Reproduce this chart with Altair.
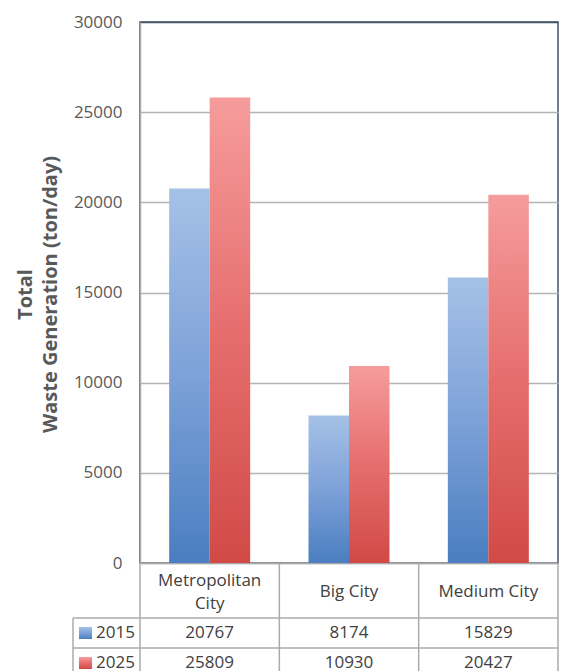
import altair as alt
import pandas as pd

# Waste generation by city type, 2015 vs 2025 (ton/day)
categories = ["Metropolitan City", "Big City", "Medium City"]
years = ["2015", "2025"]
waste_2015 = [20767, 8174, 15829]
waste_2025 = [25809, 10930, 20427]
y_ticks = [0, 5000, 10000, 15000, 20000, 25000, 30000]

records = []
for year, vals in zip(years, [waste_2015, waste_2025]):
    for cat, v in zip(categories, vals):
        records.append({"category": cat, "year": year, "value": v})
df = pd.DataFrame(records)

FONT = "Open Sans"
W, H = 418, 541
TEXT = "#404040"
AXIS_TEXT = "#595959"
LINE = "#ABABAB"
NAVY = "#44546A"

# table layout (pixels below the plot area)
ROW_CENTER = {"2015": 611, "2025": 641}
HEADER_BOTTOM = 596
ROW_LINE = 626
TABLE_BOTTOM = 660
LEGEND_LEFT = -67


def vgrad(top, mid, bottom):
    return alt.Gradient(
        gradient="linear", x1=0, x2=0, y1=0, y2=1,
        stops=[
            alt.GradientStop(color=top, offset=0),
            alt.GradientStop(color=mid, offset=0.5),
            alt.GradientStop(color=bottom, offset=1),
        ],
    )


fills = {
    "2015": vgrad("#A5C1E6", "#7DA1D8", "#4A7EC0"),
    "2025": vgrad("#F69C9C", "#E56E6D", "#D14A47"),
}

# the long name wraps onto two lines; it starts higher so both blocks stay centred
wrap_test = "datum.label == 'Metropolitan City'"
header_expr = f"{wrap_test} ? ['Metropolitan', 'City'] : datum.label"

x_enc = alt.X(
    "category:N",
    sort=categories,
    scale=alt.Scale(domain=categories, paddingInner=0, paddingOuter=0),
    axis=alt.Axis(
        title=None,
        ticks=False,
        grid=False,
        domainColor=LINE,
        domainWidth=1.5,
        labelAngle=0,
        labelPadding={"condition": {"test": wrap_test, "value": 17}, "value": 28},
        labelBaseline="middle",
        labelFontSize=17,
        labelColor=TEXT,
        labelLineHeight=23,
        labelExpr=header_expr,
    ),
)
xoff_enc = alt.XOffset(
    "year:N", scale=alt.Scale(domain=years, paddingInner=0, paddingOuter=0.72)
)
y_enc = alt.Y(
    "value:Q",
    scale=alt.Scale(domain=[0, 30000], nice=False),
    axis=alt.Axis(
        values=y_ticks,
        format="d",
        ticks=False,
        labelPadding=18,
        labelFontSize=17,
        labelColor=AXIS_TEXT,
        domainColor=LINE,
        domainWidth=1.5,
        gridColor={"condition": {"test": "datum.value == 30000", "value": NAVY},
                   "value": "#B4B4B4"},
        gridWidth=1.5,
        title=["Total", "Waste Generation (ton/day)"],
        titleFontSize=20,
        titleFontWeight="bold",
        titleColor=AXIS_TEXT,
        titleAngle=270,
        titleAlign="center",
        titleBaseline="middle",
        titleLineHeight=25,
        titleX=-115,
        titleY=272,
    ),
)

base = alt.Chart(df)
layers = []

# grouped bars
for yr in years:
    layers.append(
        base.transform_filter(alt.datum.year == yr)
        .mark_bar(fill=fills[yr])
        .encode(x=x_enc, xOffset=xoff_enc, y=y_enc)
    )

# table: column separators
layers.append(
    alt.Chart(pd.DataFrame({"category": categories}))
    .mark_rule(color=LINE, strokeWidth=1.5)
    .encode(
        x=alt.X("category:N", sort=categories, bandPosition=0),
        y=alt.value(H),
        y2=alt.value(TABLE_BOTTOM),
    )
)
one = alt.Data(values=[{"k": 0}])
layers.append(
    alt.Chart(one).mark_rule(color=LINE, strokeWidth=1.5)
    .encode(x=alt.value(W), y=alt.value(H), y2=alt.value(TABLE_BOTTOM))
)
layers.append(
    alt.Chart(one).mark_rule(color=LINE, strokeWidth=1.5)
    .encode(x=alt.value(LEGEND_LEFT), y=alt.value(HEADER_BOTTOM), y2=alt.value(TABLE_BOTTOM))
)
for yl in [HEADER_BOTTOM, ROW_LINE]:
    layers.append(
        alt.Chart(one).mark_rule(color=LINE, strokeWidth=1.5)
        .encode(x=alt.value(LEGEND_LEFT), x2=alt.value(W), y=alt.value(yl))
    )

# table: values and row legend
for yr in years:
    layers.append(
        base.transform_filter(alt.datum.year == yr)
        .mark_text(font=FONT, fontSize=17, color=TEXT, baseline="middle")
        .encode(
            x=alt.X("category:N", sort=categories),
            y=alt.value(ROW_CENTER[yr]),
            text=alt.Text("value:Q", format="d"),
        )
    )
    yr_df = pd.DataFrame({"year": [yr]})
    layers.append(
        alt.Chart(yr_df)
        .mark_rect(fill=fills[yr])
        .encode(
            x=alt.value(-61), x2=alt.value(-48),
            y=alt.value(ROW_CENTER[yr] - 6), y2=alt.value(ROW_CENTER[yr] + 6),
        )
    )
    layers.append(
        alt.Chart(yr_df)
        .mark_text(font=FONT, fontSize=17, color=TEXT, align="left", baseline="middle")
        .encode(x=alt.value(-44), y=alt.value(ROW_CENTER[yr]), text="year:N")
    )

chart = (
    alt.layer(*layers)
    .properties(
        width=W,
        height=H,
        autosize=alt.AutoSizeParams(type="none"),
        padding={"left": 140, "top": 22, "right": 5, "bottom": 108},
    )
    .configure(font=FONT)
    .configure_view(stroke=NAVY, strokeWidth=1.5)
)

chart.save("out.html", embed_options={"renderer": "svg", "actions": False})
